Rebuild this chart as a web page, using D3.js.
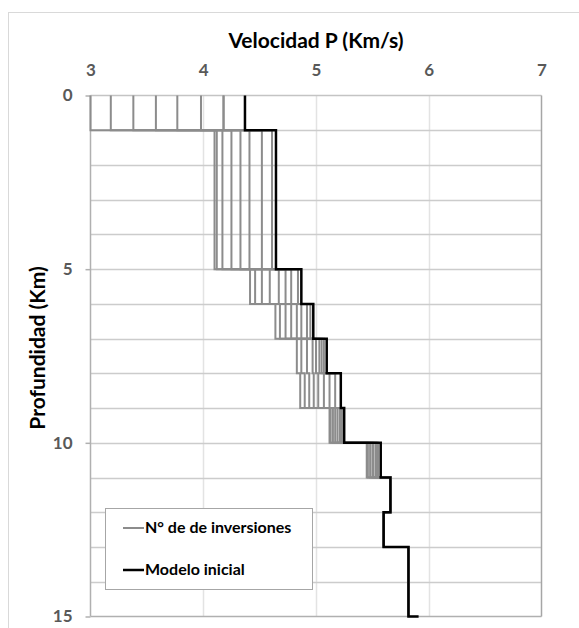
<!DOCTYPE html>
<html>
<head>
<meta charset="utf-8">
<script src="https://cdn.jsdelivr.net/npm/d3@7"></script>
<style>
  body { margin: 0; background: #fff; }
  text { font-family: Lato, "Open Sans", sans-serif; font-weight: bold; }
</style>
</head>
<body>
<svg id="chart" width="579" height="628"></svg>
<script>
// layer boundaries (km)
var depths = [0, 1, 5, 6, 7, 8, 9, 10, 11, 12, 13, 15];

// initial model, one velocity per layer, plus the value at the bottom
var modeloInicial = [4.37, 4.645, 4.87, 4.976, 5.095, 5.22, 5.25, 5.574, 5.66, 5.60, 5.82];
var modeloFondo = 5.91;

// inverted models, layers 0-1 ... 10-11 (deeper layers equal the initial model)
var inv1 = [3.00, 4.10, 4.415, 4.64, 4.83, 4.86, 5.12, 5.45];
var inv2 = [3.18, 4.12, 4.46, 4.68, 4.87, 4.90, 5.13, 5.46];
var inv3 = [3.38, 4.17, 4.52, 4.73, 4.92, 4.94, 5.15, 5.48];
var inv4 = [3.58, 4.25, 4.59, 4.78, 4.97, 4.98, 5.17, 5.50];
var inv5 = [3.77, 4.33, 4.67, 4.83, 5.00, 5.02, 5.19, 5.51];
var inv6 = [3.98, 4.41, 4.73, 4.87, 5.03, 5.07, 5.21, 5.53];
var inv7 = [4.18, 4.52, 4.78, 4.92, 5.05, 5.12, 5.22, 5.54];
var inv8 = [4.18, 4.61, 4.84, 4.95, 5.07, 5.17, 5.23, 5.55];
var inversiones = [inv1, inv2, inv3, inv4, inv5, inv6, inv7, inv8];

var xTicks = [3, 4, 5, 6, 7];
var yTicks = [0, 5, 10, 15];

var svg = d3.select("#chart");

var x = d3.scaleLinear().domain([3, 7]).range([90.5, 541.5]);
var y = d3.scaleLinear().domain([0, 15]).range([95.5, 616.5]);

// outer chart border
svg.append("rect")
    .attr("x", 8.5).attr("y", 12.5)
    .attr("width", 700).attr("height", 700)
    .attr("fill", "none")
    .attr("stroke", "#d9d9d9");

// vertical grid
svg.append("g").selectAll("line")
    .data([4, 5, 6])
    .enter().append("line")
    .attr("x1", function(d) { return Math.round(x(d)) + 0.5; })
    .attr("x2", function(d) { return Math.round(x(d)) + 0.5; })
    .attr("y1", y(0)).attr("y2", y(15))
    .attr("stroke", "#e3e3e3").attr("stroke-width", 1.5);

// horizontal grid every km
svg.append("g").selectAll("line")
    .data(d3.range(1, 15))
    .enter().append("line")
    .attr("x1", x(3)).attr("x2", x(7))
    .attr("y1", function(d) { return Math.round(y(d)) + 0.5; })
    .attr("y2", function(d) { return Math.round(y(d)) + 0.5; })
    .attr("stroke", "#cccccc").attr("stroke-width", 1.5);

// frame lines
svg.append("line").attr("x1", x(3)).attr("x2", x(7)).attr("y1", y(0)).attr("y2", y(0))
    .attr("stroke", "#c4c4c4").attr("stroke-width", 1.5);
svg.append("line").attr("x1", x(3)).attr("x2", x(7)).attr("y1", y(15)).attr("y2", y(15))
    .attr("stroke", "#b0b0b0").attr("stroke-width", 1.5);
svg.append("line").attr("x1", x(3)).attr("x2", x(3)).attr("y1", y(0)).attr("y2", y(15))
    .attr("stroke", "#b0b0b0").attr("stroke-width", 1.5);
svg.append("line").attr("x1", x(7)).attr("x2", x(7)).attr("y1", y(0)).attr("y2", y(15))
    .attr("stroke", "#a6a6a6").attr("stroke-width", 1.5);

// axes
var xAxis = svg.append("g")
    .attr("transform", "translate(0," + y(0) + ")")
    .call(d3.axisTop(x).tickValues(xTicks).tickFormat(d3.format("d")).tickSize(0).tickPadding(20));

var yAxis = svg.append("g")
    .attr("transform", "translate(" + x(3) + ",0)")
    .call(d3.axisLeft(y).tickValues(yTicks).tickFormat(d3.format("d")).tickSize(5).tickPadding(13));

[xAxis, yAxis].forEach(function(a) {
    a.select(".domain").remove();
    a.selectAll("line").attr("stroke", "#b0b0b0").attr("stroke-width", 1.5);
    a.selectAll("text")
        .attr("fill", "#595959")
        .style("font-size", "17px")
        .style("font-family", "Lato, sans-serif");
});

// step profile from layer values
function steps(vals, bottom) {
    var pts = [];
    for (var i = 0; i < vals.length; i++) {
        pts.push([vals[i], depths[i]]);
        pts.push([vals[i], depths[i + 1]]);
    }
    if (bottom !== undefined) pts.push([bottom, depths[depths.length - 1]]);
    return pts;
}

var line = d3.line()
    .x(function(d) { return x(d[0]); })
    .y(function(d) { return y(d[1]); });

svg.append("g").selectAll("path")
    .data(inversiones)
    .enter().append("path")
    .attr("d", function(d) { return line(steps(d.concat(modeloInicial.slice(d.length)))); })
    .attr("fill", "none")
    .attr("stroke", "#8c8c8c")
    .attr("stroke-width", 2);

svg.append("path")
    .attr("d", line(steps(modeloInicial, modeloFondo)))
    .attr("fill", "none")
    .attr("stroke", "#000")
    .attr("stroke-width", 2.5);

// titles
svg.append("text")
    .attr("x", 316).attr("y", 48)
    .attr("text-anchor", "middle")
    .style("font-size", "21px")
    .text("Velocidad P (Km/s)");

svg.append("text")
    .attr("transform", "translate(45,348) rotate(-90)")
    .attr("text-anchor", "middle")
    .style("font-size", "21px")
    .text("Profundidad (Km)");

// legend
var legend = svg.append("g");
legend.append("rect")
    .attr("x", 105.5).attr("y", 508.5)
    .attr("width", 207).attr("height", 81)
    .attr("fill", "#fff")
    .attr("stroke", "#a6a6a6");

var items = [
    { name: "N° de de inversiones", color: "#8c8c8c", w: 2, y: 528 },
    { name: "Modelo inicial", color: "#000", w: 2.5, y: 570 }
];
var li = legend.selectAll("g.item").data(items).enter().append("g").attr("class", "item");
li.append("line")
    .attr("x1", 123).attr("x2", 144)
    .attr("y1", function(d) { return d.y; }).attr("y2", function(d) { return d.y; })
    .attr("stroke", function(d) { return d.color; })
    .attr("stroke-width", function(d) { return d.w; });
li.append("text")
    .attr("x", 145).attr("y", function(d) { return d.y + 5; })
    .style("font-size", "16px")
    .text(function(d) { return d.name; });
</script>
</body>
</html>
